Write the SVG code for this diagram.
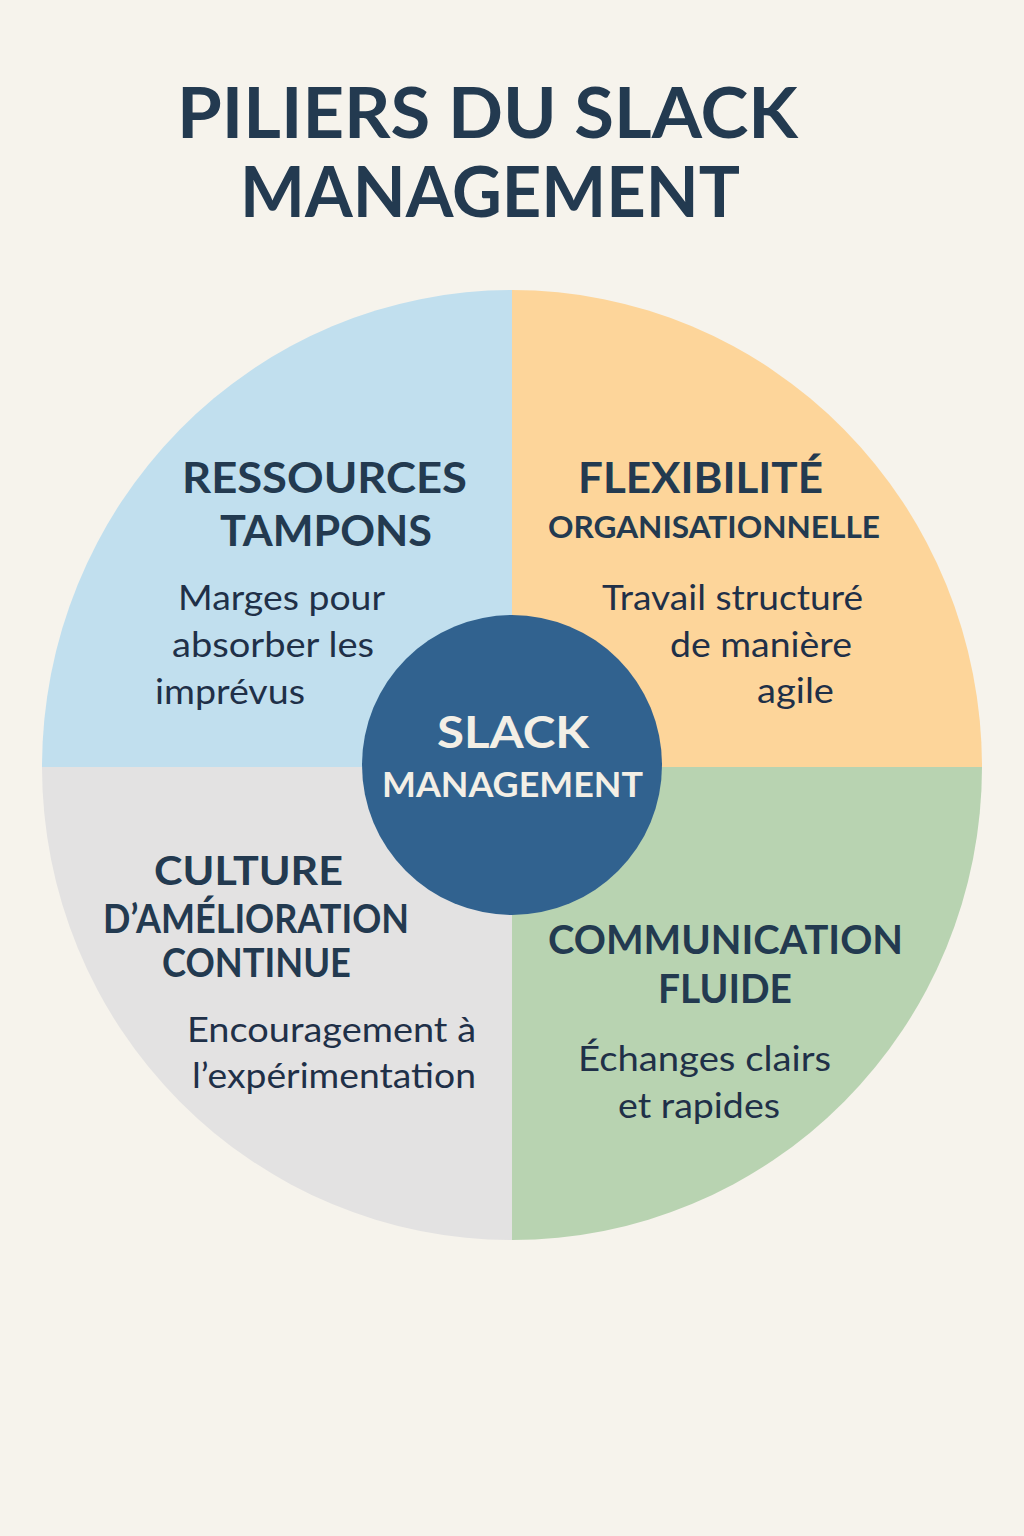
<svg xmlns="http://www.w3.org/2000/svg" width="1024" height="1536" viewBox="0 0 1024 1536">
<style>
.h{font-family:Lato,"Liberation Sans",sans-serif;font-weight:700;fill:#233A50}
.b{font-family:Lato,"Liberation Sans",sans-serif;font-weight:400;fill:#1F3048;font-size:35px}
.c{font-family:Lato,"Liberation Sans",sans-serif;font-weight:700;fill:#F3EFE6}
</style>
<rect width="1024" height="1536" fill="#F6F3EC"/>
<g id="title">
<text class="h" x="177" y="138" font-size="70" textLength="621" lengthAdjust="spacingAndGlyphs">PILIERS DU SLACK</text>
<text class="h" x="240" y="217" font-size="70" textLength="500" lengthAdjust="spacingAndGlyphs">MANAGEMENT</text>
</g>
<g id="ressources-tampons">
<path d="M512,767 L42,767 A470,477 0 0 1 512,290 Z" fill="#C1DFEE"/>
<text class="h" x="182" y="493" font-size="42" textLength="285" lengthAdjust="spacingAndGlyphs">RESSOURCES</text>
<text class="h" x="220" y="546" font-size="42" textLength="212" lengthAdjust="spacingAndGlyphs">TAMPONS</text>
<text class="b" x="178" y="610" textLength="207" lengthAdjust="spacingAndGlyphs">Marges pour</text>
<text class="b" x="172" y="657" textLength="202" lengthAdjust="spacingAndGlyphs">absorber les</text>
<text class="b" x="155" y="704" textLength="150" lengthAdjust="spacingAndGlyphs">imprévus</text>
</g>
<g id="flexibilite-organisationnelle">
<path d="M512,767 L512,290 A470,477 0 0 1 982,767 Z" fill="#FDD59A"/>
<text class="h" x="578" y="493" font-size="42" textLength="245" lengthAdjust="spacingAndGlyphs">FLEXIBILITÉ</text>
<text class="h" x="548" y="538" font-size="30" textLength="332" lengthAdjust="spacingAndGlyphs">ORGANISATIONNELLE</text>
<text class="b" x="602" y="610" textLength="261" lengthAdjust="spacingAndGlyphs">Travail structuré</text>
<text class="b" x="670" y="657" textLength="182" lengthAdjust="spacingAndGlyphs">de manière</text>
<text class="b" x="757" y="703" textLength="77" lengthAdjust="spacingAndGlyphs">agile</text>
</g>
<g id="communication-fluide">
<path d="M512,767 L982,767 A470,473 0 0 1 512,1240 Z" fill="#B8D3B1"/>
<text class="h" x="548" y="954" font-size="40" textLength="355" lengthAdjust="spacingAndGlyphs">COMMUNICATION</text>
<text class="h" x="658" y="1003" font-size="40" textLength="134" lengthAdjust="spacingAndGlyphs">FLUIDE</text>
<text class="b" x="578" y="1071" textLength="253" lengthAdjust="spacingAndGlyphs">Échanges clairs</text>
<text class="b" x="618" y="1118" textLength="162" lengthAdjust="spacingAndGlyphs">et rapides</text>
</g>
<g id="culture-amelioration-continue">
<path d="M512,767 L512,1240 A470,473 0 0 1 42,767 Z" fill="#E3E2E2"/>
<text class="h" x="154" y="885" font-size="40" textLength="189" lengthAdjust="spacingAndGlyphs">CULTURE</text>
<text class="h" x="103" y="933" font-size="40" textLength="306" lengthAdjust="spacingAndGlyphs">D’AMÉLIORATION</text>
<text class="h" x="162" y="977" font-size="40" textLength="189" lengthAdjust="spacingAndGlyphs">CONTINUE</text>
<text class="b" x="187" y="1042" textLength="289" lengthAdjust="spacingAndGlyphs">Encouragement à</text>
<text class="b" x="192" y="1088" textLength="284" lengthAdjust="spacingAndGlyphs">l’expérimentation</text>
</g>
<g id="slack-management">
<circle cx="512" cy="765" r="150" fill="#31628F"/>
<text class="c" x="437" y="748" font-size="44" textLength="152" lengthAdjust="spacingAndGlyphs">SLACK</text>
<text class="c" x="382" y="797" font-size="34" textLength="261" lengthAdjust="spacingAndGlyphs">MANAGEMENT</text>
</g>
</svg>
